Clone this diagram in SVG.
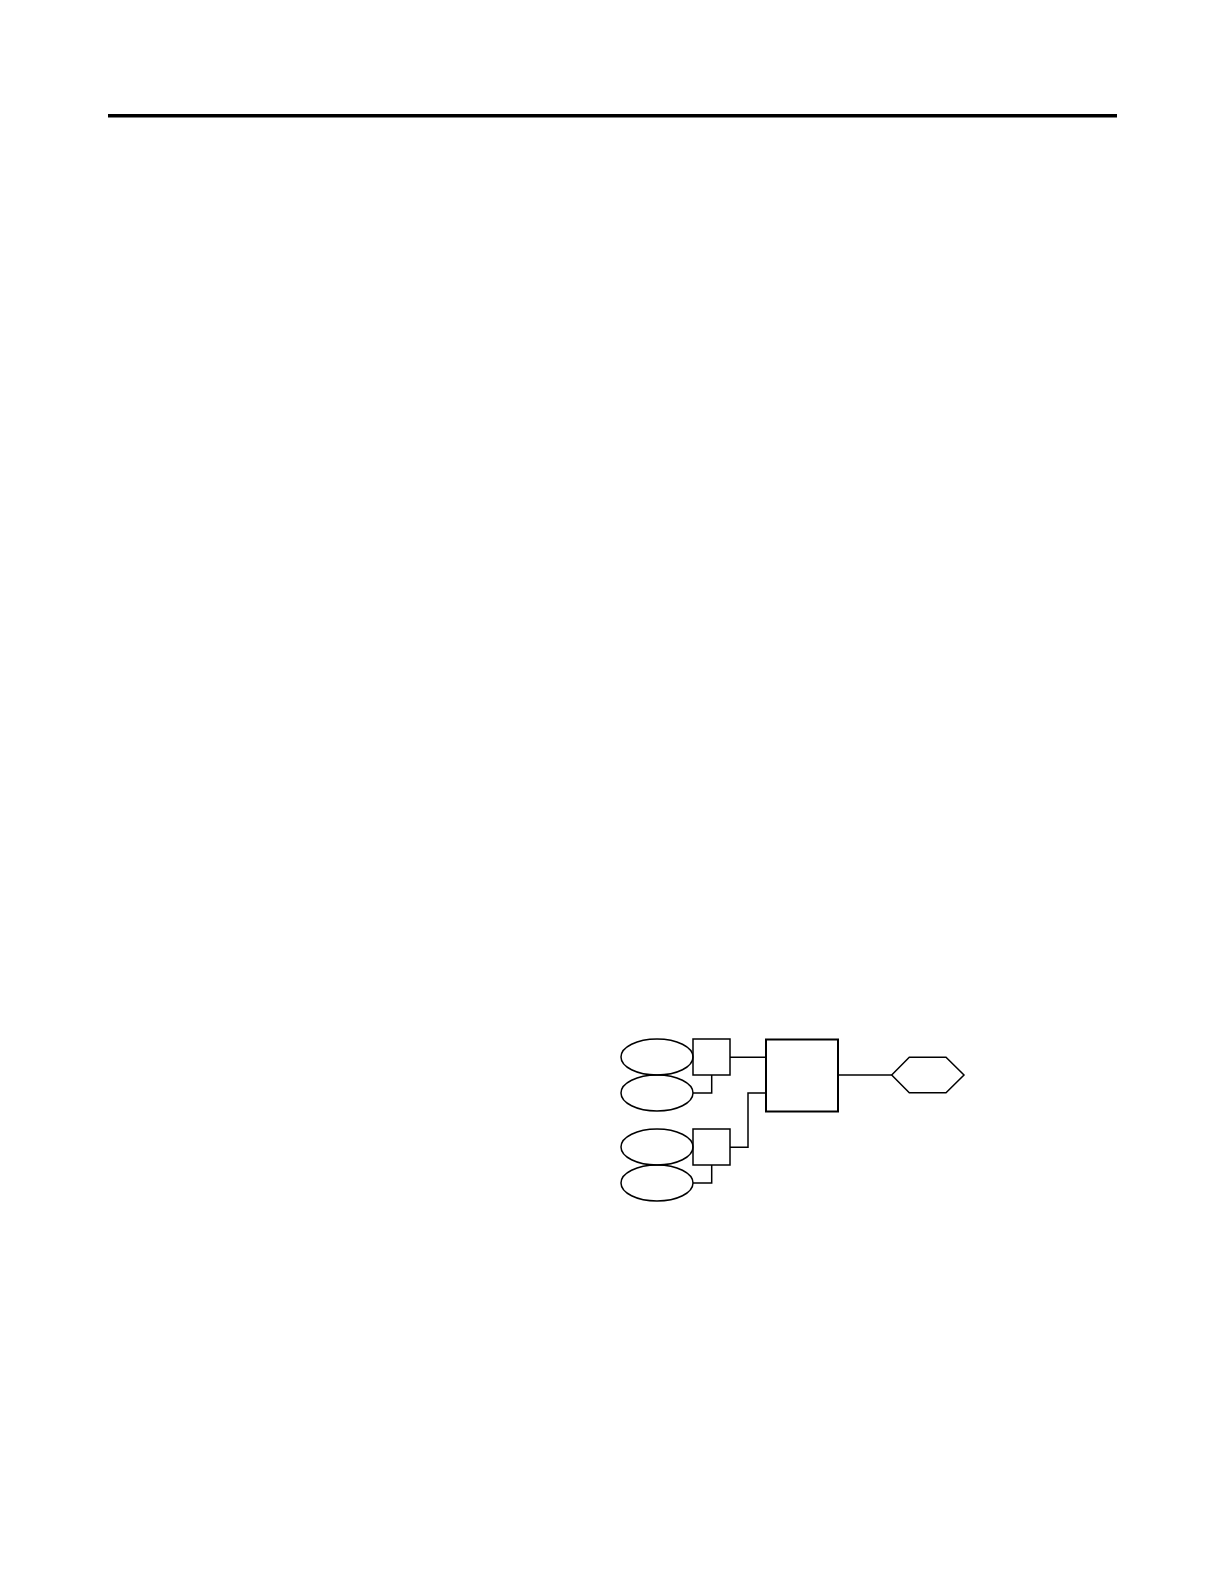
<svg xmlns="http://www.w3.org/2000/svg" width="1224" height="1584" viewBox="0 0 1224 1584">
<style>
.s{fill:none;stroke:#000;stroke-width:1.5}
.b{fill:none;stroke:#000;stroke-width:2}
.c{fill:none;stroke:#000;stroke-width:1.5}
</style>
<rect width="1224" height="1584" fill="#fff"/>
<line x1="108" y1="115.7" x2="1117" y2="115.7" stroke="#000" stroke-width="3.5"/>
<g id="in1"><ellipse class="s" cx="657" cy="1057" rx="36" ry="18"/></g>
<g id="in2"><ellipse class="s" cx="657" cy="1093" rx="36" ry="18"/></g>
<g id="in3"><ellipse class="s" cx="657" cy="1147" rx="36" ry="18"/></g>
<g id="in4"><ellipse class="s" cx="657" cy="1183" rx="36" ry="18"/></g>
<g id="gate1"><rect class="s" x="693" y="1039" width="37" height="36"/></g>
<g id="gate2"><rect class="s" x="693" y="1129" width="37" height="36"/></g>
<g id="main"><rect class="b" x="766" y="1039.5" width="72" height="72"/></g>
<g id="out"><polygon class="s" points="891.7,1075 909.3,1057.3 946,1057.3 964,1075 946,1092.7 909.3,1092.7"/></g>
<g id="connectors">
<polyline class="c" points="693,1093 711.7,1093 711.7,1075"/>
<polyline class="c" points="693,1183 711.7,1183 711.7,1165"/>
<line class="c" x1="730" y1="1057.3" x2="766" y2="1057.3"/>
<polyline class="c" points="730,1147.3 748,1147.3 748,1093 766,1093"/>
<line class="c" x1="838" y1="1075" x2="891.7" y2="1075"/>
</g>
</svg>
